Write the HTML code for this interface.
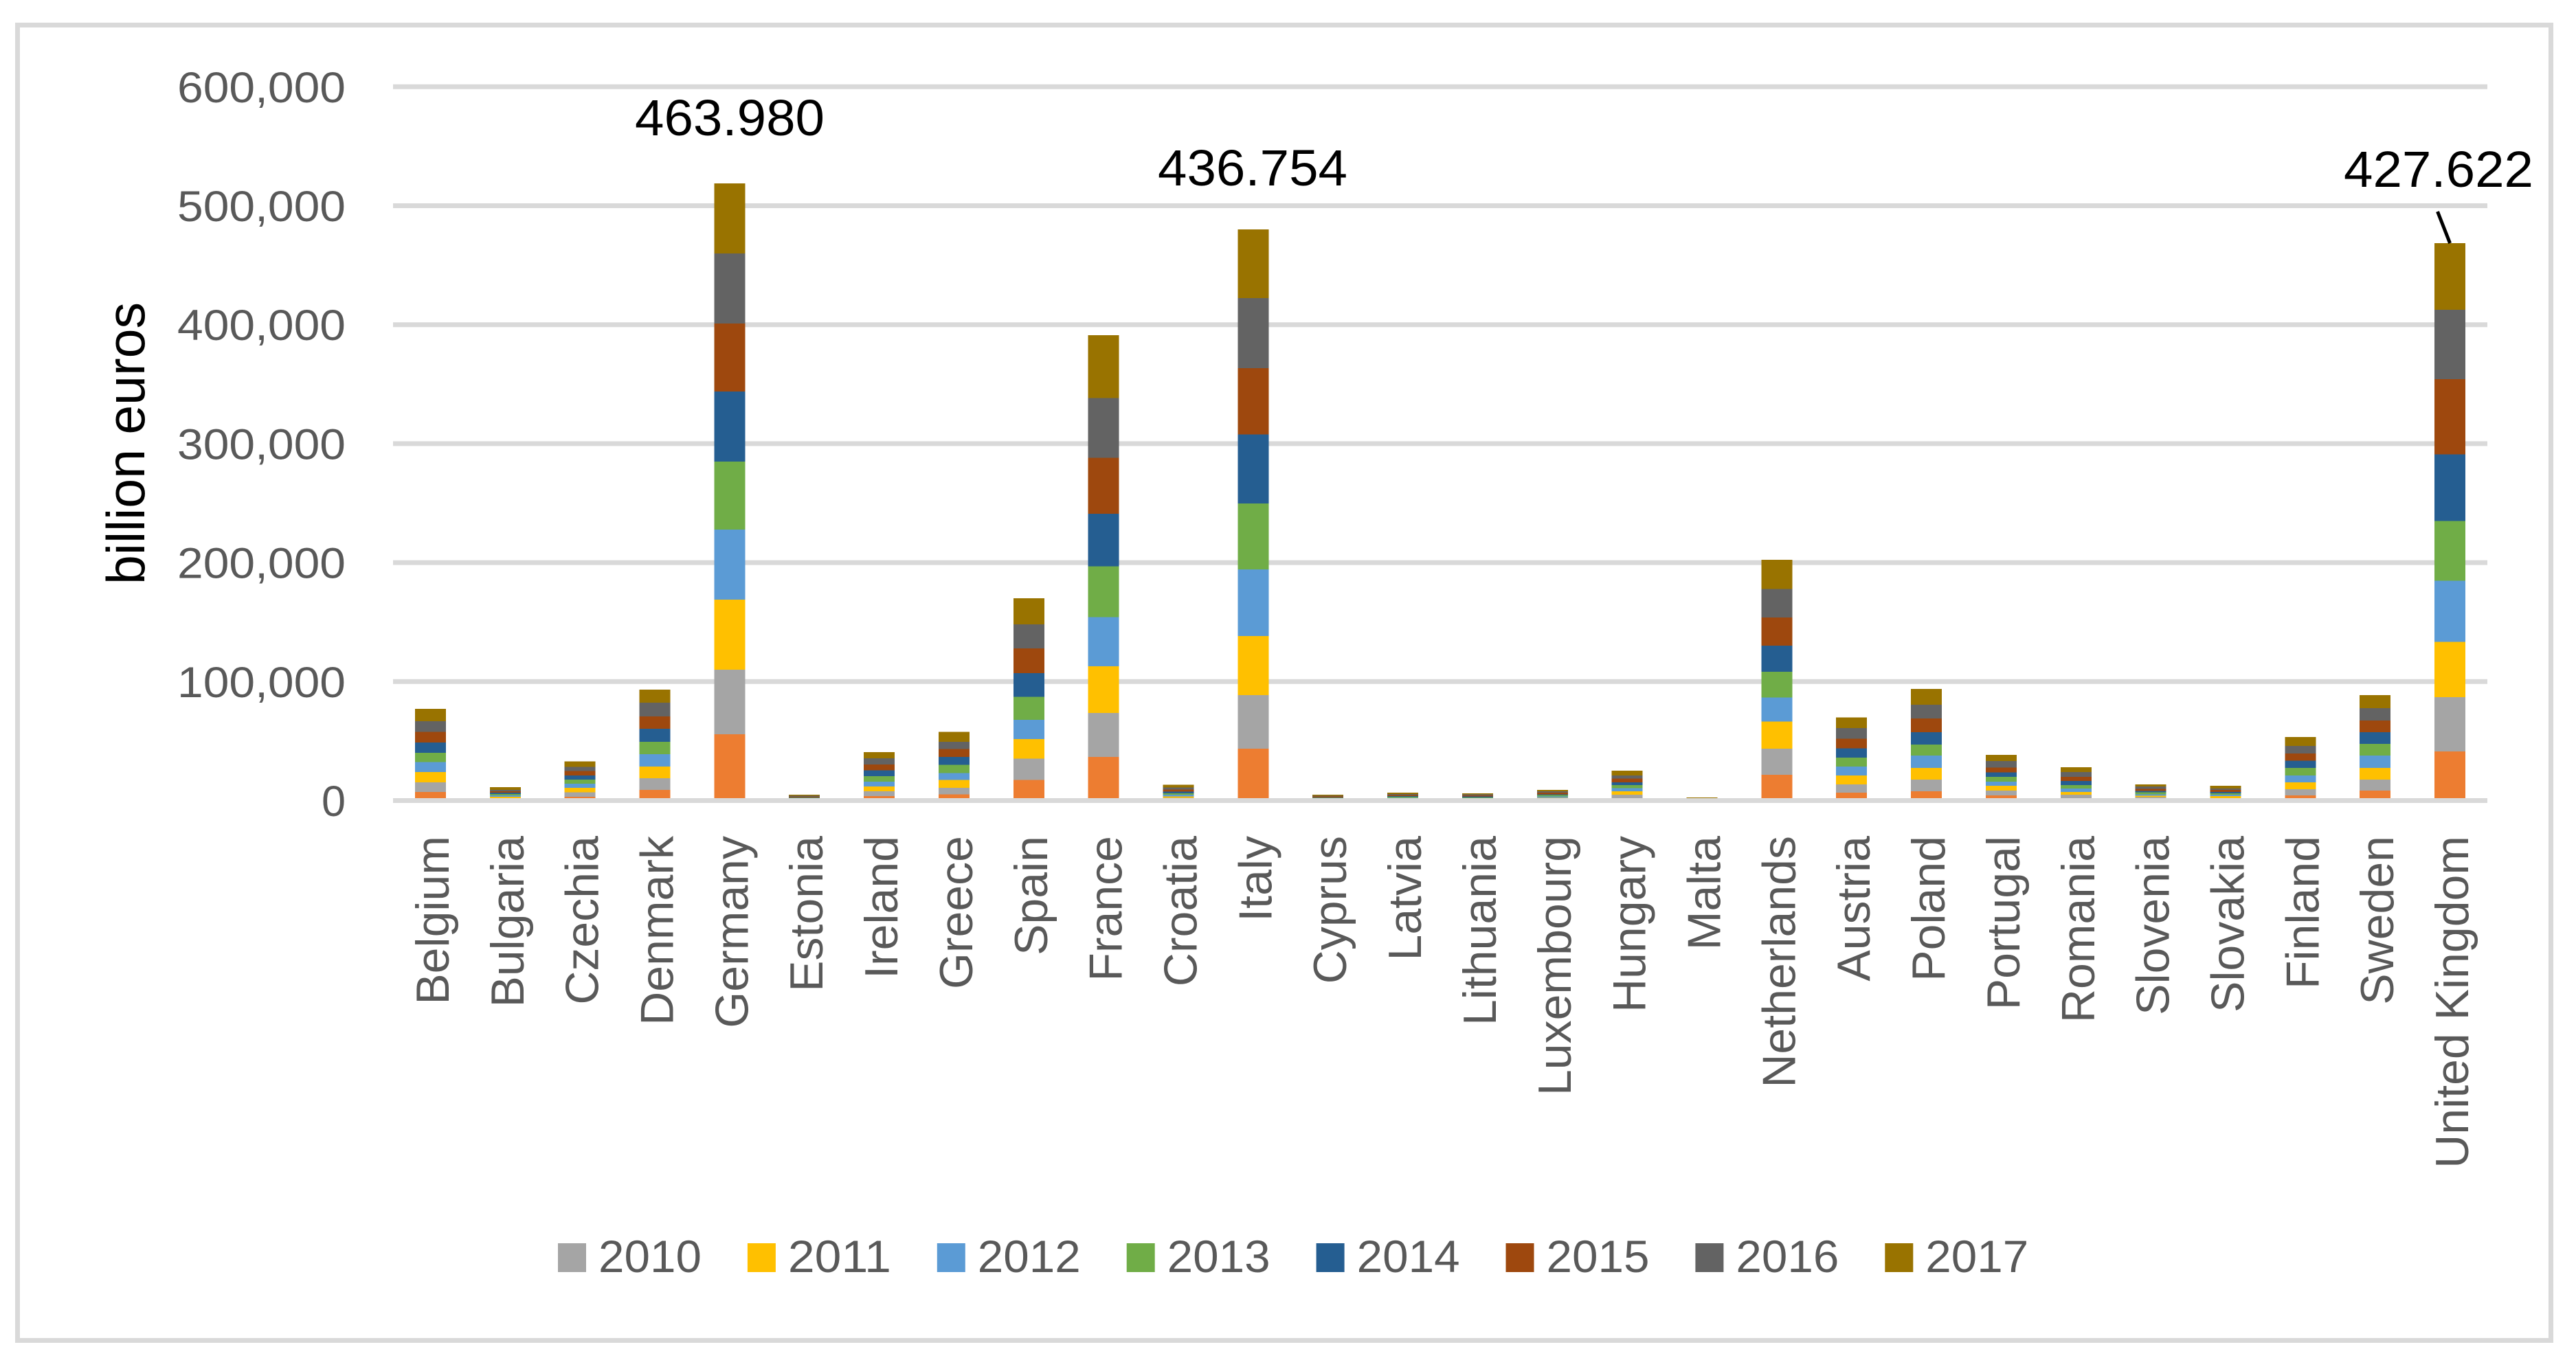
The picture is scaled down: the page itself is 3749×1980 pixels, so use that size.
<!DOCTYPE html>
<html lang="en">
<head>
<meta charset="utf-8">
<title>Stacked bar chart of billion euros by country, 2009-2017</title>
<style>
  html, body { margin: 0; padding: 0; background: #ffffff; }
  svg { display: block; }
  text { font-family: "Liberation Sans", sans-serif; }
</style>
</head>
<body>
<svg id="chart" xmlns="http://www.w3.org/2000/svg" width="3749" height="1980" viewBox="0 0 3749 1980">
  <rect x="0" y="0" width="3749" height="1980" fill="#ffffff"/>
  <rect x="25.5" y="36.5" width="3687" height="1915" fill="#ffffff" stroke="#d9d9d9" stroke-width="7"/>
  <g id="grid"></g>
  <g id="bars"></g>
  <g id="baseline"></g>
  <g id="yticks"></g>
  <g id="xlabels"></g>
  <g id="legend"></g>
  <g id="callouts"></g>
  <text transform="translate(210,851) rotate(-90)" font-size="78" fill="#000000" textLength="411" lengthAdjust="spacingAndGlyphs">billion euros</text>
</svg>
<script>
const categories = ["Belgium","Bulgaria","Czechia","Denmark","Germany","Estonia","Ireland","Greece","Spain","France","Croatia","Italy","Cyprus","Latvia","Lithuania","Luxembourg","Hungary","Malta","Netherlands","Austria","Poland","Portugal","Romania","Slovenia","Slovakia","Finland","Sweden","United Kingdom"];
const values2009 = [7200,900,3200,8900,55700,400,3800,5100,17300,36700,1100,43600,300,500,400,500,1700,200,21700,6600,7800,4300,1700,1300,800,4300,8400,41200];
const values2010 = [8100,1100,3600,9800,54300,400,4000,5700,17800,37000,1200,44900,400,600,500,600,3200,200,21900,6900,9800,4000,3200,1500,1200,5200,9200,45700];
const values2011 = [8700,1150,3900,9800,58900,400,4000,6500,16600,39300,1300,49800,500,600,600,1200,2900,200,22700,7500,9800,4000,2300,1200,1700,5800,9800,46600];
const values2012 = [8300,1150,3500,10600,58900,500,4200,5700,16200,41300,1300,55900,500,700,600,1200,2500,200,20200,7500,10400,3500,2900,1200,1200,5800,10400,51400];
const values2013 = [7900,1150,3500,10200,57200,500,4600,6900,19400,42600,1300,55400,500,700,600,1200,2700,300,21900,7500,9200,4000,2900,1700,1200,6400,9800,50200];
const values2014 = [8700,1150,3500,11000,58900,500,4800,6900,19900,44100,1200,58000,500,700,700,600,2300,300,21900,7900,10400,4000,3500,1200,1200,5900,9800,55900];
const values2015 = [8800,1150,3500,10400,57200,600,4900,6500,20700,47000,1700,55900,700,800,800,1200,3100,300,23500,8100,11500,3900,3500,1800,1700,6200,9800,63200];
const values2016 = [9100,1300,3500,11500,58900,700,5100,6200,20200,50200,1800,58700,600,900,900,1200,2700,300,23900,8800,11500,5400,4000,1800,1200,6400,10400,58400];
const values2017 = [10400,2100,4600,11000,58900,900,5200,8100,21800,53100,2300,57900,900,1100,1000,1200,4000,600,24700,9200,13300,5200,4000,1800,2300,7500,11000,55900];
const yTicks = [0,100000,200000,300000,400000,500000,600000];
const yTickLabels = ["0","100,000","200,000","300,000","400,000","500,000","600,000"];
const legendYears = ["2010","2011","2012","2013","2014","2015","2016","2017"];
const calloutTexts = ["463.980","436.754","427.622"];

const NS = "http://www.w3.org/2000/svg";
const stackSeries = [values2009,values2010,values2011,values2012,values2013,values2014,values2015,values2016,values2017];
const stackYears = ["2009","2010","2011","2012","2013","2014","2015","2016","2017"];
const stackColors = ["#ed7d31","#a5a5a5","#ffc000","#5b9bd5","#70ad47","#255e91","#9e480e","#636363","#997300"];

const plotLeft = 572, plotRight = 3620, zeroY = 1165.5, pxPerUnit = 173.2 / 100000, barWidth = 45;
function xScale(i) { return plotLeft + (plotRight - plotLeft) / categories.length * (i + 0.5); }
function yScale(v) { return zeroY - v * pxPerUnit; }
function slug(s) { return s.toLowerCase().replace(/\s+/g, "-"); }
function make(tag, parent, attrs, text) {
  const el = document.createElementNS(NS, tag);
  for (const k in attrs) el.setAttribute(k, attrs[k]);
  if (text !== undefined) el.textContent = text;
  parent.appendChild(el);
  return el;
}

/* gridlines (the zero line is drawn above the bars) */
yTicks.forEach(function (t) {
  const parent = document.getElementById(t === 0 ? "baseline" : "grid");
  const line = make("line", parent, {x1: plotLeft, x2: plotRight, y1: yScale(t), y2: yScale(t), stroke: "#d9d9d9", "stroke-width": 7});
  
  
});

/* y tick labels */
yTicks.forEach(function (t, i) {
  const label = yTickLabels[i];
  const txt = make("text", document.getElementById("yticks"), {x: 503, y: yScale(t) + 22.5, "font-size": 63, fill: "#595959", "text-anchor": "end"}, label);
  if (label.length > 1) {
    txt.setAttribute('textLength', 245);
    txt.setAttribute('lengthAdjust', 'spacingAndGlyphs');
  }
  
  
});

/* stacked bars */
const barsGroup = document.getElementById("bars");
const stackTotals = [];
categories.forEach(function (name, i) {
  let base = 0;
  stackSeries.forEach(function (series, s) {
    const v = series[i];
    const top = yScale(base + v);
    const rect = make("rect", barsGroup, {x: xScale(i) - barWidth / 2, y: top, width: barWidth, height: yScale(base) - top, fill: stackColors[s], "shape-rendering": "crispEdges"});
    
    
    rect.setAttribute('data-category', slug(name));
    rect.setAttribute('data-year', stackYears[s]);
    base += v;
  });
  stackTotals.push(base);
});

/* x labels */
categories.forEach(function (name, i) {
  const txt = make("text", document.getElementById("xlabels"), {transform: "translate(" + (xScale(i) + 26.5) + ",1217) rotate(-90)", "font-size": 68, fill: "#595959", "text-anchor": "end"}, name);
  
  
});

/* legend */
legendYears.forEach(function (year, i) {
  const x = 812 + i * 275.9;
  const swatch = make("rect", document.getElementById("legend"), {x: x, y: 1810, width: 41, height: 42, fill: stackColors[i + 1]});
  
  
  const txt = make("text", document.getElementById("legend"), {x: x + 59, y: 1852, "font-size": 66, fill: "#595959", textLength: 150, lengthAdjust: "spacingAndGlyphs"}, year);
  
  
});

/* callouts */
const calloutGroup = document.getElementById("callouts");
const calloutAnchors = [[924, 197], [1685, 270], [3411, 272]];
calloutTexts.forEach(function (label, i) {
  const txt = make("text", calloutGroup, {x: calloutAnchors[i][0], y: calloutAnchors[i][1], "font-size": 74, fill: "#000000", textLength: 276, lengthAdjust: "spacingAndGlyphs"}, label);
  
  
});
const lastIndex = categories.length - 1;
const leader = make("line", calloutGroup, {x1: 3547.5, y1: 308, x2: xScale(lastIndex), y2: yScale(stackTotals[lastIndex]), stroke: "#000000", "stroke-width": 5});


</script>
</body>
</html>
